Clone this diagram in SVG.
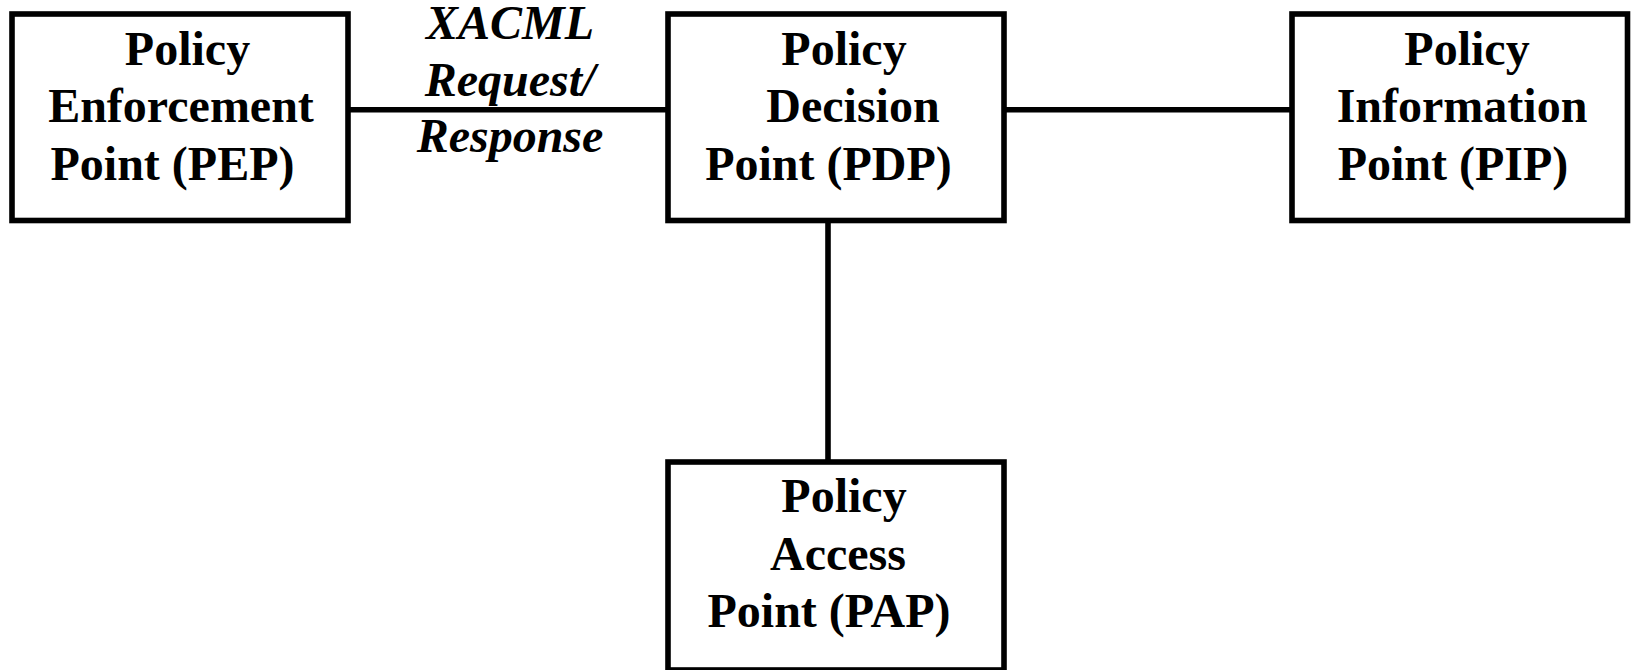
<svg xmlns="http://www.w3.org/2000/svg" width="1633" height="670" viewBox="0 0 1633 670">
<style>
.box{fill:#fff;stroke:#000;stroke-width:5.6}
.lbl{font-family:"Liberation Serif","Times New Roman",serif;font-weight:bold;font-size:48px;fill:#000;text-anchor:middle}
.it{font-style:italic}
.conn{stroke:#000;stroke-width:5.6;fill:none}
</style>
<rect width="1633" height="670" fill="#fff"/>
<g id="connectors">
<line class="conn" x1="348" y1="109.7" x2="668" y2="109.7"/>
<line class="conn" x1="1004" y1="109.7" x2="1292" y2="109.7"/>
<line class="conn" x1="828" y1="220.5" x2="828" y2="462"/>
<text class="lbl it" x="510" y="39">XACML</text>
<text class="lbl it" x="510" y="96">Request/</text>
<text class="lbl it" x="510" y="152">Response</text>
</g>
<g id="pep">
<rect class="box" x="12" y="14" width="336" height="206.5"/>
<text class="lbl" x="187.5" y="64.5">Policy</text>
<text class="lbl" x="181" y="122">Enforcement</text>
<text class="lbl" x="172.5" y="179.5">Point (PEP)</text>
</g>
<g id="pdp">
<rect class="box" x="668" y="14" width="336" height="206.5"/>
<text class="lbl" x="844" y="64.5">Policy</text>
<text class="lbl" x="853" y="122">Decision</text>
<text class="lbl" x="828.5" y="179.5">Point (PDP)</text>
</g>
<g id="pip">
<rect class="box" x="1292" y="14" width="335.5" height="206.5"/>
<text class="lbl" x="1467" y="64.5">Policy</text>
<text class="lbl" x="1462" y="122">Information</text>
<text class="lbl" x="1453" y="179.5">Point (PIP)</text>
</g>
<g id="pap">
<rect class="box" x="668" y="462" width="336" height="208"/>
<text class="lbl" x="844" y="512">Policy</text>
<text class="lbl" x="838" y="569.5">Access</text>
<text class="lbl" x="829" y="627">Point (PAP)</text>
</g>
</svg>
